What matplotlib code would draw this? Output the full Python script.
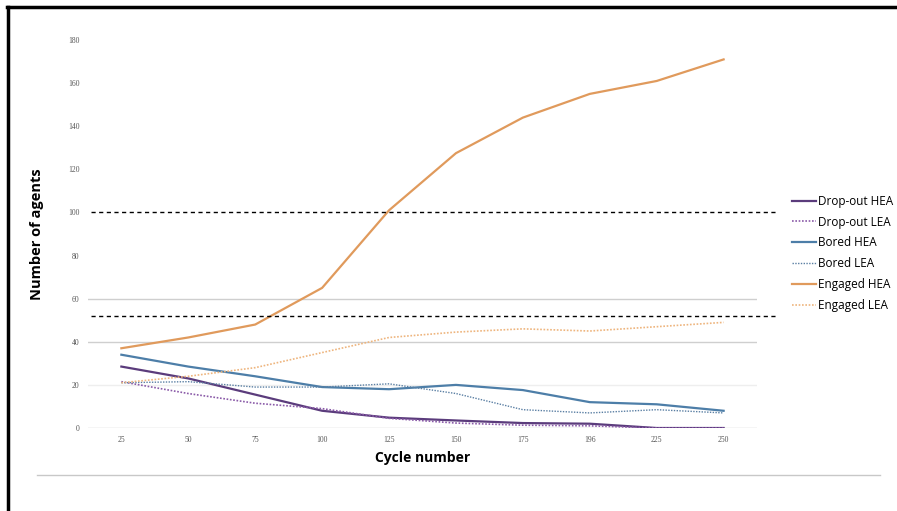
import matplotlib
matplotlib.use("Agg")
import matplotlib.pyplot as plt
from matplotlib.lines import Line2D

plt.rcParams["font.family"] = ["Open Sans", "DejaVu Sans"]

cycles = ["25", "50", "75", "100", "125", "150", "175", "196", "225", "250"]

dropout_hea = [28.5, 23, 15.5, 8, 4.8, 3.5, 2.3, 2, 0, 0]
dropout_lea = [21.5, 16, 11.5, 9, 4.5, 2.3, 1.3, 1, 0, 0]
bored_hea = [34, 28.5, 24, 19, 18, 20, 17.6, 12, 11, 8]
bored_lea = [21, 21.5, 19, 19, 20.5, 16, 8.5, 7, 8.5, 7]
engaged_hea = [37, 42, 48, 65, 101, 127.5, 144, 155, 161, 171]
engaged_lea = [21, 24, 28, 35, 42, 44.5, 46, 45, 47, 49]

thresholds = [100, 52]
y_ticks = [0, 20, 40, 60, 80, 100, 120, 140, 160, 180]

fig = plt.figure(figsize=(8.97, 5.11), dpi=100)
ax = fig.add_axes([0.098, 0.1624, 0.746, 0.7593])

x = list(range(len(cycles)))

# light grid only in the lower band, as in the source
for g, a in [(20, 0.35), (40, 1.0), (60, 1.0)]:
    ax.axhline(g, color="#cfcfcf", lw=1.0, alpha=a, zorder=1)
ax.axhline(0, color="#cfcfcf", lw=1.0, zorder=1)

ax.plot(x, dropout_hea, color="#5b3c7c", lw=1.6, label="Drop-out HEA", zorder=3)
ax.plot(x, dropout_lea, color="#8a5aa8", lw=1.2, ls=(0, (1, 1)), label="Drop-out LEA", zorder=3)
ax.plot(x, bored_hea, color="#4d7ea8", lw=1.6, label="Bored HEA", zorder=3)
ax.plot(x, bored_lea, color="#5a7fa3", lw=1.0, ls=(0, (1, 1)), label="Bored LEA", zorder=3)
ax.plot(x, engaged_hea, color="#e09a5c", lw=1.6, label="Engaged HEA", zorder=3)
ax.plot(x, engaged_lea, color="#eeb57e", lw=1.2, ls=(0, (1, 1)), label="Engaged LEA", zorder=3)

for t in thresholds:
    ax.plot([-0.45, 9.81], [t, t], color="black", lw=1.0, ls=(0, (3, 2.5)),
            clip_on=False, zorder=4)

ax.set_xlim(-0.5, 9.5)
ax.set_ylim(0, 180)
ax.set_xticks(x)
ax.set_xticklabels(cycles)
ax.set_yticks(y_ticks)
ax.tick_params(length=0, labelsize=5.5, labelcolor="#555555", pad=6)
for lbl in ax.get_xticklabels() + ax.get_yticklabels():
    lbl.set_family("Liberation Serif")
for s in ax.spines.values():
    s.set_visible(False)

ax.set_xlabel("Cycle number", fontsize=10, fontweight="bold", labelpad=5)
ax.set_ylabel("Number of agents", fontsize=10.5, fontweight="bold", labelpad=17)

ax.legend(loc="upper left", bbox_to_anchor=(0.878, 0.628), bbox_transform=fig.transFigure,
          frameon=False, fontsize=8.5, handlelength=2.0, handletextpad=0.2,
          labelspacing=0.66, borderaxespad=0)

# frame pieces and separator
fig.add_artist(Line2D([0.008, 1.0], [0.987, 0.987], color="black", lw=2.5))
fig.add_artist(Line2D([0.009, 0.009], [0.0, 0.987], color="black", lw=2.5))
fig.add_artist(Line2D([0.041, 0.981], [0.071, 0.071], color="#c8c8c8", lw=1.0))

fig.savefig("out.png", dpi=100)
